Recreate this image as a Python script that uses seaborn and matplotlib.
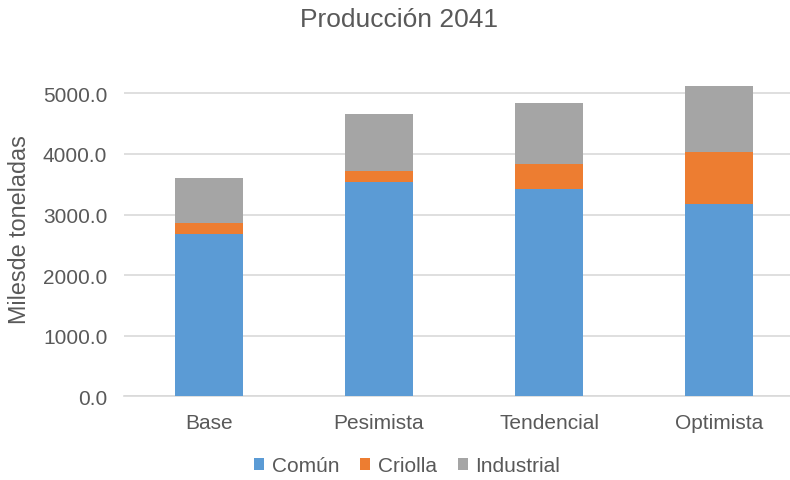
import matplotlib
matplotlib.use("Agg")
import matplotlib.pyplot as plt
import seaborn as sns
import pandas as pd
import numpy as np
from matplotlib.patches import Patch

categories = ["Base", "Pesimista", "Tendencial", "Optimista"]
comun = [2673, 3531, 3421, 3173]
criolla = [187, 192, 407, 863]
industrial = [742, 935, 1012, 1084]
series_names = ["Común", "Criolla", "Industrial"]
colors = ["#5B9BD5", "#ED7D31", "#A5A5A5"]
yticks = [0, 1000, 2000, 3000, 4000, 5000]

sns.set_theme(style="white")
plt.rcParams["font.family"] = ["Liberation Sans", "DejaVu Sans"]
text_color = "#595959"

df = pd.DataFrame({"cat": categories, "Común": comun, "Criolla": criolla, "Industrial": industrial})
df["c1"] = df["Común"]
df["c2"] = df["c1"] + df["Criolla"]
df["c3"] = df["c2"] + df["Industrial"]

fig = plt.figure(figsize=(7.9, 4.81), dpi=100)
W, H = 790, 481
y0, y5000 = 397.3, 94.3
ytop = 75
px_per = (y0 - y5000) / 5000
ax = fig.add_axes([124 / W, 1 - y0 / H, 1 - 124 / W, (y0 - ytop) / H])

for col, color in zip(["c3", "c2", "c1"], colors[::-1]):
    sns.barplot(data=df, x="cat", y=col, color=color, width=0.4, ax=ax,
                saturation=1, linewidth=0, zorder=3)

ax.set_xlim(-0.5, -0.5 + 666 / 170)
ax.set_ylim(0, (y0 - ytop) / px_per)
ax.set_yticks(yticks)
ax.set_yticklabels([f"{v:.1f}" for v in yticks])
ax.grid(axis="y", color="#D9D9D9", linewidth=1.2, zorder=0)
ax.set_axisbelow(True)
for s in ["top", "right", "left"]:
    ax.spines[s].set_visible(False)
ax.spines["bottom"].set_color("#D9D9D9")
ax.spines["bottom"].set_linewidth(1.2)
ax.tick_params(axis="both", length=0, labelsize=15, labelcolor=text_color)
ax.tick_params(axis="y", pad=12)
ax.tick_params(axis="x", pad=12)
ax.set_xlabel("")
ax.set_ylabel("")

fig.text(20 / W, 1 - 230 / H, "Milesde toneladas", rotation=90, ha="center", va="center",
         fontsize=16.8, color=text_color)

fig.text(399 / W, 1 - 20 / H, "Producción 2041", ha="center", va="center",
         fontsize=19, color=text_color)

handles = [Patch(facecolor=c, edgecolor="none") for c in colors]
fig.legend(handles, series_names, loc="center", bbox_to_anchor=(407 / W, 1 - 467 / H),
           ncol=3, frameon=False, fontsize=15, labelcolor=text_color,
           handlelength=0.5, handleheight=0.5, handletextpad=0.35, columnspacing=1.0)

fig.savefig("out.png", dpi=100)
